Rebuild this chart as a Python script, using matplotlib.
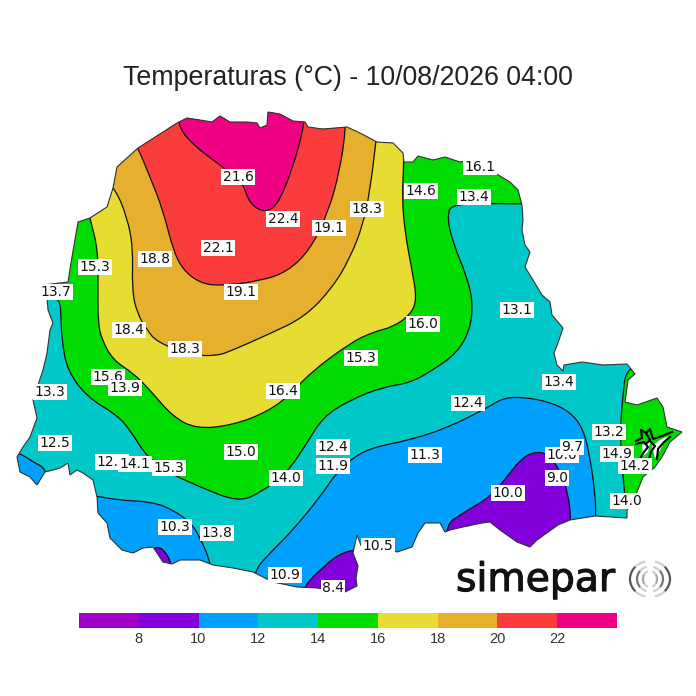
import matplotlib
matplotlib.use('Agg')
import matplotlib.pyplot as plt
from matplotlib.colors import ListedColormap, BoundaryNorm
from matplotlib.cm import ScalarMappable
from matplotlib.patches import Polygon, Arc, PathPatch
from matplotlib.path import Path
import matplotlib.patheffects as pe

# map coordinates are image pixels of the 696x696 frame
title = 'Temperaturas (°C) - 10/08/2026 04:00'

levels = [6, 8, 10, 12, 14, 16, 18, 20, 22, 24]
tick_levels = [8, 10, 12, 14, 16, 18, 20, 22]
colors = ['#a000c8', '#8200dc', '#00a0ff', '#00c8c8', '#00dc00',
          '#e6dc32', '#e6af2d', '#fa3c3c', '#f00082']

state = [(177, 123), (187, 118), (200, 120), (212, 122), (220, 116), (230, 122), (247, 122),
         (257, 123), (260, 128), (267, 125), (268, 112), (280, 114), (293, 121), (305, 122),
         (308, 127), (323, 129), (347, 127), (360, 133), (377, 142), (393, 143), (403, 153),
         (404, 162), (413, 162), (418, 156), (433, 160), (445, 157), (460, 162), (473, 160),
         (487, 166), (495, 173), (510, 182), (518, 190), (522, 205), (523, 220), (522, 230),
         (525, 245), (530, 252), (525, 267), (533, 280), (542, 295), (550, 302), (552, 315),
         (563, 328), (558, 343), (554, 353), (557, 365), (563, 371), (564, 365), (582, 362),
         (603, 365), (627, 364), (635, 374), (628, 380), (625, 402), (637, 405), (657, 398),
         (663, 407), (667, 427), (682, 432), (670, 442), (662, 457), (655, 467), (643, 477),
         (635, 497), (627, 510), (627, 518), (595, 516), (570, 520), (558, 525), (537, 540),
         (530, 547), (517, 542), (500, 530), (490, 522), (482, 523), (463, 527), (450, 530),
         (445, 532), (440, 523), (425, 523), (418, 533), (412, 547), (397, 552), (385, 548),
         (362, 548), (357, 535), (353, 553), (358, 566), (356, 578), (357, 586), (345, 592),
         (340, 592), (317, 588), (297, 587), (273, 582), (253, 572), (233, 568), (213, 565),
         (200, 560), (180, 560), (172, 564), (163, 562), (153, 547), (143, 548), (133, 553),
         (122, 550), (110, 538), (107, 523), (98, 513), (97, 497), (93, 480), (83, 473),
         (77, 470), (70, 475), (68, 463), (60, 468), (53, 470), (45, 472), (37, 485), (30, 477),
         (20, 472), (17, 457), (23, 447), (30, 437), (37, 418), (33, 400), (43, 370), (47, 353),
         (50, 330), (53, 323), (48, 310), (47, 298), (43, 285), (68, 282), (72, 257), (78, 222),
         (90, 218), (107, 207), (113, 188), (117, 167), (138, 148), (163, 132)]

green_west = [(40, 296), (60, 297), (61, 320), (62, 340), (67, 370), (87, 397), (117, 415),
              (130, 430), (147, 457), (167, 472), (200, 487), (238, 502), (260, 493), (287, 473),
              (307, 443), (323, 417), (350, 400), (383, 387), (410, 383), (433, 370), (457, 353),
              (470, 330), (473, 303), (467, 277), (453, 243), (447, 217), (452, 203), (520, 204),
              (540, 204), (540, 100), (0, 100), (0, 296)]
green_east = [(627, 360), (622, 403), (620, 437), (623, 477), (627, 518), (700, 520), (700, 360)]
yellow = [(90, 218), (98, 250), (98, 290), (98, 323), (102, 340), (113, 360), (133, 373),
          (150, 390), (173, 417), (197, 429), (233, 425), (267, 412), (290, 395), (310, 373),
          (350, 343), (373, 332), (393, 327), (410, 315), (417, 300), (412, 270), (405, 233),
          (402, 197), (404, 162), (404, 100), (88, 100), (85, 200)]
orange = [(115, 188), (127, 217), (133, 247), (132, 290), (137, 313), (147, 330), (157, 342),
          (190, 355), (217, 356), (233, 350), (267, 335), (305, 317), (333, 287), (350, 258),
          (363, 225), (370, 190), (376, 142), (380, 100), (95, 100), (95, 170)]
red = [(138, 148), (150, 177), (163, 210), (173, 250), (183, 270), (200, 283), (220, 286),
       (260, 281), (287, 272), (310, 250), (328, 213), (340, 170), (346, 127), (346, 90),
       (130, 90), (130, 135)]
magenta = [(177, 125), (193, 145), (220, 165), (243, 183), (248, 200), (258, 210), (270, 211),
           (280, 200), (293, 167), (305, 123), (305, 90), (177, 90)]
blue_main = [(337, 472), (350, 460), (370, 448), (410, 440), (447, 428), (487, 408), (503, 398),
             (523, 397), (550, 402), (570, 412), (583, 428), (590, 457), (595, 493), (596, 517),
             (596, 570), (253, 610), (253, 572), (270, 553), (293, 530), (320, 497)]
blue_sw = [(97, 496), (117, 500), (153, 502), (173, 510), (190, 522), (200, 537), (212, 566),
           (212, 600), (80, 600), (80, 496)]
blue_w = [(20, 453), (33, 462), (47, 469), (50, 500), (0, 500), (0, 450)]
purple_east = [(445, 525), (463, 513), (490, 497), (507, 477), (520, 460), (533, 452), (547, 453),
               (560, 470), (568, 493), (571, 519), (571, 570), (445, 570)]
purple_south = [(302, 588), (322, 568), (339, 554), (357, 549), (372, 552), (372, 610), (302, 610)]
purple_sw = [(152, 547), (163, 548), (172, 564), (172, 575), (150, 575)]

# (polygon, colour index) drawn in order on top of the 12-14 base
regions = [(green_west, 4), (green_east, 4), (yellow, 5), (orange, 6), (red, 7), (magenta, 8),
           (blue_main, 2), (blue_sw, 2), (blue_w, 2), (purple_east, 1), (purple_south, 1),
           (purple_sw, 1)]

# Paranagua bay
bay_water = [[(652, 446), (660, 440), (668, 436), (660, 450), (655, 458)],
             [(642, 445), (650, 442), (648, 452), (643, 456)]]
bay_lines = [[(636, 441), (642, 438), (641, 430), (646, 433), (650, 429), (653, 439), (662, 436),
              (672, 432)],
             [(636, 444), (644, 442), (648, 447), (644, 452), (641, 457)],
             [(650, 441), (655, 446), (651, 452), (649, 459)],
             [(657, 459), (658, 449), (664, 442), (670, 437)],
             [(646, 433), (650, 440), (646, 444)]]

label_values = ['21.6', '22.4', '19.1', '18.3', '22.1', '18.8', '19.1', '15.3', '13.7', '18.4',
                '18.3', '16.0', '15.3', '14.6', '13.4', '16.1', '13.1', '13.4', '15.6', '13.9',
                '16.4', '13.3', '12.4', '13.2', '10.0', '9.7', '14.9', '14.2', '12.5', '12.1',
                '14.1', '15.3', '15.0', '12.4', '11.9', '14.0', '11.3', '10.0', '9.0', '14.0',
                '10.3', '13.8', '10.5', '10.9', '8.4']
label_x = [238, 283, 329, 367, 218, 155, 241, 95, 56, 129, 185, 423, 361, 421, 474, 480, 517, 559,
           108, 125, 283, 50, 468, 609, 562, 572, 617, 635, 55, 112, 135, 169, 241, 333, 333, 286,
           425, 508, 557, 627, 175, 217, 378, 285, 333]
label_y = [177, 219, 228, 209, 248, 259, 292, 267, 292, 330, 349, 324, 358, 191, 197, 167, 310, 382,
           377, 388, 391, 392, 403, 432, 455, 447, 454, 466, 443, 462, 464, 468, 452, 447, 466, 478,
           455, 493, 478, 501, 527, 533, 546, 575, 588]


def smooth_path(poly):
    # closed quadratic path through edge midpoints, the vertices act as control points
    mids = [((a[0] + b[0]) / 2, (a[1] + b[1]) / 2) for a, b in zip(poly, poly[1:] + poly[:1])]
    verts = [mids[-1]]
    codes = [Path.MOVETO]
    for v, m in zip(poly, mids):
        verts += [v, m]
        codes += [Path.CURVE3, Path.CURVE3]
    return Path(verts, codes)


fig = plt.figure(figsize=(6.96, 6.96), dpi=100, facecolor='white')
ax = fig.add_axes([0, 0, 1, 1])
ax.set_xlim(0, 696)
ax.set_ylim(696, 0)
ax.axis('off')

border = Polygon(state, closed=True, fc=colors[3], ec='none', zorder=1)
ax.add_patch(border)
for poly, idx in regions:
    p = PathPatch(smooth_path(poly), fc=colors[idx], ec='#101010', lw=0.9, zorder=2)
    ax.add_patch(p)
    p.set_clip_path(border)

for poly in bay_water:
    ax.add_patch(Polygon(poly, closed=True, fc='white', ec='none', zorder=3))
for line in bay_lines:
    ax.plot(*zip(*line), color='black', lw=1.5, zorder=3)

ax.add_patch(Polygon(state, closed=True, fc='none', ec='#333333', lw=0.8, zorder=4))

for val, x, y in zip(label_values, label_x, label_y):
    ax.text(x, y, val, ha='center', va='center', fontsize=10, color='#111111', zorder=5,
            bbox=dict(fc='white', ec='none', pad=1))

ax.text(348, 78, title, ha='center', va='center', fontsize=19.3, color='#222222',
        family='Liberation Sans')

# logo
ax.text(456, 591, 'simepar', ha='left', va='baseline', fontsize=28.3, color='#111111',
        family='DejaVu Sans', path_effects=[pe.withStroke(linewidth=0.8, foreground='#111111')])
for rx, ry, dark in [(20, 18, '#555555'), (13, 12.5, '#777777'), (7, 8, '#aaaaaa')]:
    for start, shade, span in [(-75, '#d0d0d0', 35), (-40, dark, 80), (40, '#d0d0d0', 35),
                               (105, '#d0d0d0', 35), (140, dark, 80), (220, '#d0d0d0', 35)]:
        ax.add_patch(Arc((650, 579), 2 * rx, 2 * ry, theta1=start, theta2=start + span,
                         color=shade, lw=1.6))

cax = fig.add_axes([79 / 696, 1 - 628 / 696, 538 / 696, 15 / 696])
sm = ScalarMappable(norm=BoundaryNorm(levels, len(colors)), cmap=ListedColormap(colors))
cb = fig.colorbar(sm, cax=cax, orientation='horizontal', ticks=tick_levels)
cb.minorticks_off()
cb.outline.set_visible(False)
cb.ax.tick_params(length=0, pad=3, labelsize=10.5, labelcolor='#333333')
for t in cb.ax.get_xticklabels():
    t.set_family('Liberation Sans')

fig.savefig('out.png', dpi=100, facecolor='white')
